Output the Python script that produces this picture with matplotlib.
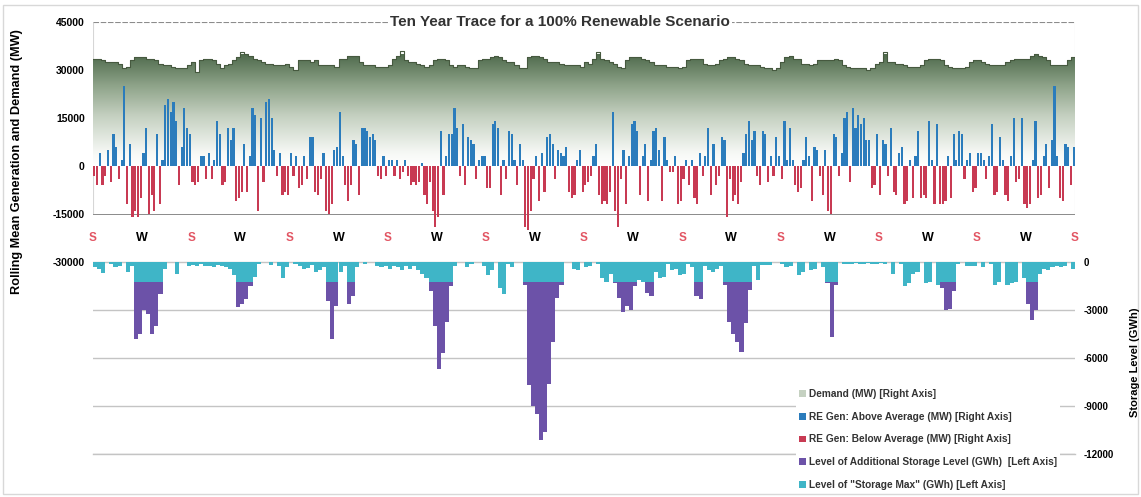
import numpy as np
import matplotlib
matplotlib.use("Agg")
import matplotlib.pyplot as plt
from matplotlib.colors import LinearSegmentedColormap
from matplotlib.patches import Patch, Rectangle

plt.rcParams['font.family'] = ['Liberation Sans', 'DejaVu Sans']

# ---------------- data ----------------
YEARS = 10
season_labels = ['S', 'W'] * YEARS + ['S']

# RE generation deviation from its rolling mean, GW (3 samples per month);
# positive = above average, negative = below average
re_dev_gw = [
    -3, -6, 4, -6, -3, 5, -5, 10, 6, -4, 2, 25, -12, 7, -16, -14, -16, -10, 4, 12, -15, -9, -14, 10, -12, 2, 19, 21, 17, 20, 14, -6, 6, 18, 12, 10,
    -5, -6, -5, 3, 3, -4, 4, -4, 2, 14, 10, -6, -5, 12, 8, 12, -11, -10, -8, 7, -8, 3, 18, 16, -14, 15, -5, 20, 21, 15, 5, -3, 4, -9, -8, -9,
    4, -3, 3, -7, -6, 3, -4, 9, 9, -8, -9, -4, 4, -14, -15, -12, 5, 6, 17, 3, -6, -11, -6, 8, 7, -9, 12, 12, 11, 9, 10, 8, -3, -4, 3, -3,
    2, 2, -3, 2, -4, -2, 2, -3, -6, -5, -6, -5, 1, -9, -12, -5, -14, -19, -16, 11, -9, 3, 10, 10, 18, 12, -3, 13, -6, 9, 8, 7, -4, 2, 3, 3,
    -7, -7, 13, 14, 12, -9, 2, -4, 11, 10, 2, -6, 7, 2, -19, -20, -14, -4, 3, -11, 4, -8, 9, 10, 7, -4, 5, 4, 3, 6, -8, -10, -9, 2, 5, -8,
    -6, -5, -3, 3, 7, -9, -12, -11, -12, -8, 17, -14, -19, -4, 5, -12, 3, 13, 14, 11, -9, 3, 7, -11, 2, 11, 12, 5, -11, 9, 2, -2, -2, 3, -12, -11,
    -4, 2, -6, 2, -10, -12, 4, -3, 3, 12, -9, 7, -6, -3, 9, 8, -16, -4, -11, -9, -12, -5, 4, 10, 14, 8, 11, -3, -6, 11, 10, -5, 3, -3, 9, 3,
    -4, 14, 2, 12, 2, -6, -8, -7, 2, 9, 3, -11, 6, 5, -3, -9, 5, -14, -15, 10, 9, -3, 4, 15, 17, -5, 18, 12, 16, 13, 15, 8, 8, -7, -6, 10,
    -9, 8, 7, -3, 12, -8, -9, 4, 6, -12, -11, 2, -10, 3, 11, -10, -9, -10, 14, 2, -12, 13, -12, -12, -11, 3, -10, 10, 2, 11, 10, -4, 2, 4, -8, -7,
    4, 4, 2, -4, 3, 13, -9, -8, 9, 2, -9, -11, 3, 15, -5, -4, 15, -12, -13, -12, 2, 14, -10, -9, 3, 7, -7, 8, 25, 3, -10, -11, 7, 6, -6, 6,
]

# Rolling mean demand, GW (2 samples per month)
demand_gw = [
    33.5, 33.5, 33, 32.5, 32.5, 32.5, 32, 30.5, 31, 33, 34, 34, 34, 33.5, 33.5, 33, 32, 31.5, 31.5, 31, 30.5, 30.5, 30.5, 31.5,
    32.5, 29.5, 33, 33.5, 33.5, 33, 32, 30.5, 31.5, 32, 33, 34, 35.5, 35, 34.5, 33.5, 33, 32.5, 32, 32, 31.5, 31.5, 31.5, 32,
    31, 30, 33, 33, 33, 32.5, 33, 31.5, 31.5, 31.5, 31.5, 31, 33.5, 33.5, 34.5, 34.5, 34.5, 32.5, 31.5, 31.5, 31.5, 31, 31, 31,
    31.5, 33.5, 34.5, 36, 33, 32.5, 32.5, 32, 31.5, 31, 31.5, 33, 33.5, 33.5, 33, 31.5, 31, 31.5, 31.5, 31, 30.5, 30.5, 33, 33.5,
    33.5, 34, 34.5, 34, 33, 32.5, 32.5, 31.5, 30.5, 30.5, 34, 34.5, 34.5, 34, 33.5, 32.5, 32.5, 32.5, 32, 31.5, 31.5, 31.5, 31.5, 31,
    32.5, 32, 33.5, 35.5, 33.5, 33, 32.5, 32, 31, 30.5, 33, 34, 34, 34, 33.5, 33, 32.5, 31.5, 31.5, 31.5, 31, 31, 31, 30.5,
    31, 33, 33.5, 33.5, 33.5, 32, 31.5, 31.5, 32, 33, 33.5, 34, 34, 33.5, 33, 32, 31.5, 31.5, 31.5, 31, 30.5, 30.5, 30, 30.5,
    32.5, 34, 34.5, 33.5, 33.5, 32, 32, 31.5, 32, 33, 33, 33, 33, 33.5, 33, 31.5, 31, 30.5, 30.5, 30.5, 30.5, 30, 30.5, 32,
    32.5, 35.5, 32.5, 32.5, 32, 32, 31.5, 31, 31, 31, 31.5, 33, 33.5, 33.5, 33.5, 33, 31.5, 31, 30.5, 30.5, 30.5, 31, 32.5, 33,
    33, 32.5, 32, 31.5, 31.5, 31.5, 31.5, 32.5, 33, 33.5, 33.5, 33.5, 33.5, 34.5, 35, 34.5, 34, 33, 31.5, 31.5, 31.5, 31.5, 33, 34,
]

# Storage drawdown, GWh (2 samples per month)
storage_max_gwh = [
    -300, -400, -650, 0, -100, -300, -250, 0, -600, -200, -1200, -1200, -1200, -1200, -1200, -1200, -1200, -400, 0, 0, -700, 0, 0, -200,
    -150, -250, -100, -250, -200, -300, -150, -200, -300, -400, -800, -1200, -1200, -1200, -1200, -900, -100, 0, 0, -150, 0, -200, -1000, -300,
    0, -100, -200, -400, -350, -150, -600, -500, -300, -1200, -1200, -1200, -600, -200, -1200, -1200, -300, 0, -100, 0, 0, -200, -300, -200,
    -400, -200, -300, -500, -250, -400, -200, -500, -700, -1000, -1200, -1200, -1200, -1200, -1200, -1200, -200, 0, 0, -300, -100, 0, 0, -200,
    -800, -500, 0, -1600, -2000, -100, -300, 0, 0, -1200, -1200, -1200, -1200, -1200, -1200, -1200, -1200, -1200, -1200, 0, 0, -400, -500, 0,
    -300, -200, 0, -100, -1000, -1200, -700, -1200, -1200, -1200, -1200, -1200, -1200, -1100, -1200, -1200, -1200, -600, -1000, -900, -100, -500, -400, -800,
    -700, -100, -300, -1200, -1200, -200, -500, -600, -400, -200, -1200, -1200, -1200, -1200, -1200, -1200, -1200, -200, -1100, -150, -150, -150, 0, 0,
    -100, -300, -250, 0, -800, -600, 0, -500, -400, 0, -300, -1200, -1200, -1200, 0, -100, -80, -100, -50, -100, -80, -60, -100, -80,
    -50, -100, 0, -700, 0, -100, -1500, -1300, -700, -600, 0, -1300, -1200, 0, -1400, -1200, -1200, -1200, -1200, -100, 0, -200, -250, -200,
    0, -300, 0, -100, -1400, -1200, 0, -1400, -1300, -1200, 0, -1000, -1200, -1200, -1200, -700, -400, -500, -300, -200, -300, -250, 0, -400,
]

storage_extra_gwh = [
    0, 0, 0, 0, 0, 0, 0, 0, 0, 0, -3600, -3300, -1800, -2000, -3300, -2800, -800, 0, 0, 0, 0, 0, 0, 0,
    0, 0, 0, 0, 0, 0, 0, 0, 0, 0, 0, -1600, -1400, -1100, -300, 0, 0, 0, 0, 0, 0, 0, 0, 0,
    0, 0, 0, 0, 0, 0, 0, 0, 0, -1200, -3600, -1500, 0, 0, -1400, -900, 0, 0, 0, 0, 0, 0, 0, 0,
    0, 0, 0, 0, 0, 0, 0, 0, 0, 0, -600, -2800, -5500, -4500, -2500, -300, 0, 0, 0, 0, 0, 0, 0, 0,
    0, 0, 0, 0, 0, 0, 0, 0, 0, -200, -6500, -7800, -8300, -9900, -9400, -6400, -3800, -1000, -200, 0, 0, 0, 0, 0,
    0, 0, 0, 0, 0, 0, 0, -100, -1000, -1900, -1500, -1800, -300, 0, 0, -700, -900, 0, 0, 0, 0, 0, 0, 0,
    0, 0, 0, -900, -1100, 0, 0, 0, 0, 0, -200, -2500, -3300, -3800, -4400, -2600, -500, 0, 0, 0, 0, 0, 0, 0,
    0, 0, 0, 0, 0, 0, 0, 0, 0, 0, 0, -100, -3500, -200, 0, 0, 0, 0, 0, 0, 0, 0, 0, 0,
    0, 0, 0, 0, 0, 0, 0, 0, 0, 0, 0, 0, 0, 0, 0, -400, -1800, -1700, -600, 0, 0, 0, 0, 0,
    0, 0, 0, 0, 0, 0, 0, 0, 0, 0, 0, 0, -1400, -2400, -1800, 0, 0, 0, 0, 0, 0, 0, 0, 0,
]

left_ticks = [45000, 30000, 15000, 0, -15000, -30000]
right_ticks = [0, -3000, -6000, -9000, -12000]

legend_labels = [
    'Demand (MW) [Right Axis]',
    'RE Gen: Above Average (MW) [Right Axis]',
    'RE Gen: Below Average (MW) [Right Axis]',
    'Level of Additional Storage Level (GWh)  [Left Axis]',
    'Level of "Storage Max" (GWh) [Left Axis]',
]

# ---------------- styling ----------------
C_BLUE = '#2b7cbc'
C_RED = '#c83a53'
C_PURPLE = '#6c52a8'
C_CYAN = '#3fb5c7'
C_GREEN_DARK = '#4f6a4c'

W, H = 1141, 497
fig = plt.figure(figsize=(W / 100, H / 100), dpi=100)
fig.patch.set_facecolor('white')
ax = fig.add_axes([93 / W, 1 - 454 / H, (1075 - 93) / W, (454 - 22) / H])
ax2 = ax.twinx()

re_dev = np.array(re_dev_gw, dtype=float) * 1000
demand = np.array(demand_gw, dtype=float) * 1000
s_max = np.array(storage_max_gwh, dtype=float)
s_extra = np.array(storage_extra_gwh, dtype=float)

x_re = (np.arange(len(re_dev)) + 0.5) * YEARS / len(re_dev)
x_dem = (np.arange(len(demand)) + 0.5) * YEARS / len(demand)
x_st = (np.arange(len(s_max)) + 0.5) * YEARS / len(s_max)

# demand: gradient-filled step area
x_d = np.concatenate([[0], x_dem, [YEARS]])
y_d = np.concatenate([[demand[0]], demand, [demand[-1]]])
area = ax.fill_between(x_d, 0, y_d, step='mid', facecolor='none', edgecolor='none', zorder=1)
cmap = LinearSegmentedColormap.from_list(
    'dem', [(0, '#ffffff'), (0.12, '#f6f8f5'), (0.45, '#c4d0c0'), (0.72, '#8ea389'), (1, C_GREEN_DARK)])
grad = np.linspace(0, 1, 256).reshape(-1, 1)
im = ax.imshow(grad, extent=[0, YEARS, 0, 35000], origin='lower', aspect='auto', cmap=cmap, zorder=1)
im.set_clip_path(area.get_paths()[0], transform=ax.transData)
ax.step(x_d, y_d, where='mid', color='#46593f', lw=0.8, zorder=1.5)

# RE generation deviation bars
bw = YEARS / len(re_dev) * 0.8
above = np.where(re_dev > 0, re_dev, 0)
below = np.where(re_dev < 0, re_dev, 0)
ax.bar(x_re, above, width=bw, color=C_BLUE, linewidth=0, zorder=2)
ax.bar(x_re, below, width=bw, color=C_RED, linewidth=0, zorder=2)

# season markers
for i, s in enumerate(season_labels):
    if s == 'S':
        ax.text(i * 0.5, -22500, s, ha='center', va='center', color='#e25563',
                fontsize=8.5, fontweight='bold', zorder=3)
    else:
        ax.text(i * 0.5, -22500, s, ha='center', va='center', color='black',
                fontsize=9, fontweight='bold', zorder=3)

# reference lines
ax.axhline(45000, color='#8c8c8c', lw=0.8, ls=(0, (5, 1.5)), zorder=0.5)
ax.axhline(-15000, color='#8a8a8a', lw=0.7, zorder=0.5)
ax.vlines([0, YEARS], -15000, 45000, color='#d6d6d6', lw=0.8, zorder=0.4)

ax.set_xlim(0, YEARS)
ax.set_ylim(-90000, 45000)
ax.set_xticks([])
ax.set_yticks(left_ticks)
ax.set_yticklabels([str(t) for t in left_ticks])
ax.tick_params(axis='y', length=0, pad=6, labelsize=7.5)
for lab in ax.get_yticklabels():
    lab.set_fontweight('bold')
for sp in ax.spines.values():
    sp.set_visible(False)

# storage bars on the secondary axis
sw = YEARS / len(s_max)
ax2.bar(x_st, s_max, width=sw, color=C_CYAN, linewidth=0, zorder=2)
ax2.bar(x_st, s_extra, bottom=s_max, width=sw, color=C_PURPLE, linewidth=0, zorder=2)
ax2.set_ylim(-12000, 15062.5)
ax2.set_yticks(right_ticks)
ax2.set_yticklabels([str(t) for t in right_ticks])
ax2.tick_params(axis='y', length=0, pad=6, labelsize=7)
for lab in ax2.get_yticklabels():
    lab.set_fontweight('bold')
ax2.set_axisbelow(True)
ax2.grid(axis='y', color='#c4c4c4', lw=1.0)
ax2.axhline(right_ticks[-1], color='#c4c4c4', lw=1.0, clip_on=False, zorder=0.5)
for sp in ax2.spines.values():
    sp.set_visible(False)
ax2.set_xlim(0, YEARS)

# axis titles and chart title
fig.text(17 / W, 1 - 162 / H, 'Rolling Mean Generation and Demand (MW)', rotation=90,
         ha='center', va='center', fontsize=9.2, fontweight='bold')
fig.text(1135 / W, 1 - 362 / H, 'Storage Level (GWh)', rotation=90,
         ha='center', va='center', fontsize=8, fontweight='bold')
fig.text(560 / W, 1 - 22 / H, 'Ten Year Trace for a 100% Renewable Scenario',
         ha='center', va='center', fontsize=11, fontweight='bold', color='#333333',
         bbox=dict(facecolor='white', edgecolor='none', pad=1.5))

# legend
handles = [Patch(facecolor='#c5d1c1'), Patch(facecolor=C_BLUE), Patch(facecolor=C_RED),
           Patch(facecolor=C_PURPLE), Patch(facecolor=C_CYAN)]
leg = fig.legend(handles, legend_labels, loc='upper left', bbox_to_anchor=(791 / W, 1 - 381 / H),
                 frameon=True, facecolor='white', edgecolor='none', framealpha=1,
                 prop={'size': 7.3, 'weight': 'bold'}, handlelength=0.65, handleheight=0.65,
                 handletextpad=0.3, labelspacing=1.25, borderpad=0.3)
for t in leg.get_texts():
    t.set_color('#333333')

# outer chart frame
fig.patches.append(Rectangle((3 / W, 3 / H), 1 - 6 / W, 1 - 8 / H, transform=fig.transFigure,
                             fill=False, edgecolor='#d8d8d8', lw=1))

fig.savefig('out.png', dpi=100, facecolor='white')
